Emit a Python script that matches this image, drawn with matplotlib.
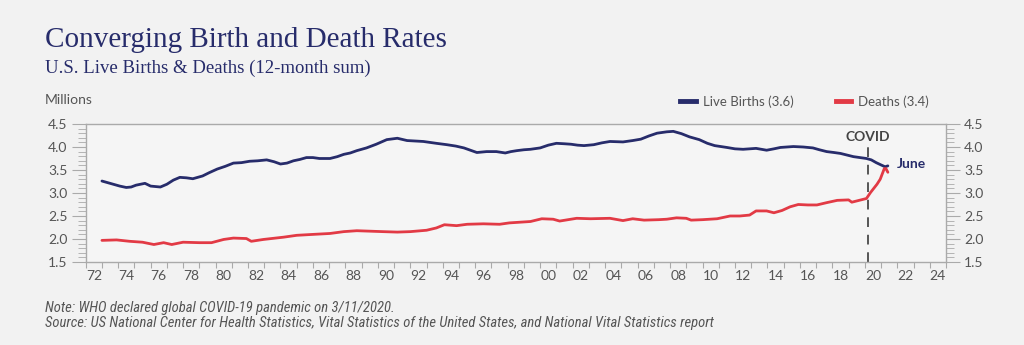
import matplotlib.pyplot as plt
from matplotlib.lines import Line2D

# 12-month sums, millions
birth_years = [1973.0, 1973.4, 1973.7, 1974.1, 1974.5, 1974.8, 1975.1, 1975.65, 1976.0, 1976.6,
               1977.0, 1977.4, 1977.8, 1978.2, 1978.6, 1979.2, 1979.6, 1980.1, 1980.6, 1981.1,
               1981.6, 1982.1, 1982.6, 1983.15, 1983.6, 1984.0, 1984.4, 1984.8, 1985.2, 1985.6,
               1986.0, 1986.4, 1987.05, 1987.5, 1987.9, 1988.3, 1988.7, 1989.3, 1989.9, 1990.55,
               1991.2, 1991.8, 1992.3, 1992.8, 1993.2, 1993.6, 1994.25, 1994.8, 1995.3, 1995.7,
               1996.1, 1996.4, 1996.7, 1997.3, 1997.85, 1998.2, 1998.55, 1999.0, 1999.4, 2000.0,
               2000.5, 2001.0, 2001.5, 2001.9, 2002.3, 2002.7, 2003.3, 2003.8, 2004.3, 2005.1,
               2005.7, 2006.2, 2006.7, 2007.2, 2007.8, 2008.2, 2008.7, 2009.2, 2009.8, 2010.3,
               2010.75, 2011.5, 2012.0, 2012.5, 2013.3, 2013.95, 2014.4, 2014.8, 2015.6, 2016.2,
               2016.8, 2017.2, 2017.65, 2018.1, 2018.5, 2019.3, 2020.1, 2020.4, 2020.7, 2021.0,
               2021.25, 2021.42]
births = [3.26, 3.22, 3.19, 3.15, 3.12, 3.13, 3.17, 3.21, 3.15, 3.13,
          3.19, 3.28, 3.34, 3.33, 3.31, 3.37, 3.44, 3.52, 3.58, 3.65,
          3.66, 3.69, 3.70, 3.72, 3.68, 3.63, 3.65, 3.70, 3.73, 3.77,
          3.77, 3.75, 3.75, 3.79, 3.84, 3.87, 3.92, 3.98, 4.06, 4.16,
          4.19, 4.14, 4.13, 4.12, 4.10, 4.08, 4.05, 4.02, 3.98, 3.93,
          3.88, 3.89, 3.90, 3.90, 3.87, 3.90, 3.92, 3.94, 3.95, 3.98,
          4.04, 4.08, 4.07, 4.06, 4.04, 4.03, 4.05, 4.09, 4.12, 4.11,
          4.14, 4.17, 4.24, 4.30, 4.33, 4.34, 4.29, 4.22, 4.16, 4.08,
          4.03, 3.99, 3.96, 3.95, 3.97, 3.93, 3.96, 3.99, 4.01, 4.00,
          3.98, 3.94, 3.90, 3.88, 3.86, 3.79, 3.75, 3.72, 3.66, 3.61,
          3.57, 3.59]

death_years = [1973.0, 1973.9, 1974.7, 1975.5, 1976.2, 1976.8, 1977.3, 1978.0, 1979.0, 1979.75,
               1980.5, 1981.1, 1981.9, 1982.2, 1982.95, 1984.2, 1985.0, 1986.0, 1987.05, 1987.9,
               1988.7, 1989.5, 1990.3, 1991.2, 1992.0, 1993.0, 1993.6, 1994.1, 1994.85, 1995.5,
               1996.5, 1997.5, 1998.1, 1999.4, 2000.1, 2000.8, 2001.2, 2002.25, 2003.1, 2004.3,
               2005.1, 2005.7, 2006.4, 2007.3, 2007.8, 2008.4, 2009.0, 2009.3, 2010.0, 2010.9,
               2011.7, 2012.3, 2012.9, 2013.3, 2013.95, 2014.4, 2014.9, 2015.4, 2015.9, 2016.5,
               2017.05, 2017.65, 2018.3, 2019.0, 2019.2, 2020.1, 2020.35, 2020.75, 2020.95, 2021.2,
               2021.3, 2021.42]
deaths = [1.97, 1.98, 1.95, 1.93, 1.88, 1.92, 1.88, 1.93, 1.92, 1.92,
          1.99, 2.02, 2.01, 1.95, 1.99, 2.04, 2.08, 2.10, 2.12, 2.16,
          2.18, 2.17, 2.16, 2.15, 2.16, 2.19, 2.24, 2.31, 2.29, 2.32,
          2.33, 2.32, 2.35, 2.38, 2.44, 2.43, 2.39, 2.45, 2.44, 2.45,
          2.40, 2.44, 2.41, 2.42, 2.43, 2.46, 2.45, 2.41, 2.42, 2.44,
          2.50, 2.50, 2.52, 2.61, 2.61, 2.57, 2.62, 2.70, 2.75, 2.74,
          2.74, 2.79, 2.84, 2.85, 2.80, 2.88, 3.01, 3.19, 3.30, 3.53,
          3.53, 3.45]

covid_year = 2020.2
label_years = list(range(1972, 2025, 2))
tick_labels = [f"{y % 100:02d}" for y in label_years]

NAVY = "#272c6b"
RED = "#e23a45"
GRAY = "#555555"
AXC = "#aaaaaa"
NOTE_FONT = ['Roboto Condensed', 'Liberation Sans Narrow', 'Roboto', 'DejaVu Sans']

plt.rcParams['font.family'] = ['Lato', 'DejaVu Sans']

fig = plt.figure(figsize=(10.24, 3.45), dpi=100, facecolor="#f2f2f2")
ax = fig.add_axes([0.0837, 0.2406, 0.8401, 0.4000], facecolor="#f5f5f5")

ax.plot(birth_years, births, color=NAVY, lw=2.0, solid_capstyle='round')
ax.plot(death_years, deaths, color=RED, lw=2.0, solid_capstyle='round')

ax.axvline(covid_year, color=GRAY, lw=1.4, dashes=(5, 4), zorder=1)
ax.text(covid_year, 4.22, "COVID", ha='center', va='center', fontsize=10, fontweight='bold',
        color="#444444", bbox=dict(facecolor="#f5f5f5", edgecolor='none', pad=1.5))
ax.text(2021.95, 3.63, "June", ha='left', va='center', fontsize=10, fontweight='bold', color=NAVY)

ax.set_xlim(1972, 2025)
ax.set_ylim(1.5, 4.5)

# year boundary ticks, labels centred in each even year
ax.set_xticks(range(1972, 2026))
ax.set_xticklabels([])
ax.set_xticks([y + 0.5 for y in label_years], minor=True)
ax.set_xticklabels(tick_labels, minor=True)
ax.tick_params(axis='x', which='major', length=4, color=AXC, direction='out')
ax.tick_params(axis='x', which='minor', length=0, pad=6, labelsize=10, labelcolor=GRAY)

yt = [1.5, 2.0, 2.5, 3.0, 3.5, 4.0, 4.5]
ax.set_yticks(yt)
ax.set_yticklabels([f"{v:.1f}" for v in yt])
ax.set_yticks([1.5 + 0.1 * i for i in range(31)], minor=True)
ax.tick_params(axis='y', which='major', length=10, color=AXC, labelsize=10, labelcolor=GRAY,
               left=True, right=True, labelleft=True, labelright=True, pad=3)
ax.tick_params(axis='y', which='minor', length=6, color=AXC, left=True, right=True)

for s in ax.spines.values():
    s.set_color(AXC)
    s.set_linewidth(1.0)

handles = [Line2D([], [], color=NAVY, lw=3.5), Line2D([], [], color=RED, lw=3.5)]
ax.legend(handles, ["Live Births (3.6)", "Deaths (3.4)"], loc='lower right',
          bbox_to_anchor=(0.983, 1.10), ncol=2, frameon=False, fontsize=9.5,
          handlelength=1.2, handletextpad=0.5, columnspacing=3.2, labelcolor=GRAY,
          borderaxespad=0, borderpad=0.2)

fig.text(0.044, 0.865, "Converging Birth and Death Rates", fontsize=21, color=NAVY,
         family='Liberation Serif', va='baseline')
fig.text(0.044, 0.789, "U.S. Live Births & Deaths (12-month sum)", fontsize=13.5, color=NAVY,
         family='Liberation Serif', va='baseline')
fig.text(0.044, 0.699, "Millions", fontsize=10, color=GRAY, va='baseline')

fig.text(0.044, 0.097, "Note: WHO declared global COVID-19 pandemic on 3/11/2020.", fontsize=10.5,
         color=GRAY, style='italic', family=NOTE_FONT)
fig.text(0.044, 0.053, "Source: US National Center for Health Statistics, Vital Statistics of the United States, "
         "and National Vital Statistics report", fontsize=10.5, color=GRAY, style='italic',
         family=NOTE_FONT)

fig.savefig("out.png", dpi=100, facecolor=fig.get_facecolor())
